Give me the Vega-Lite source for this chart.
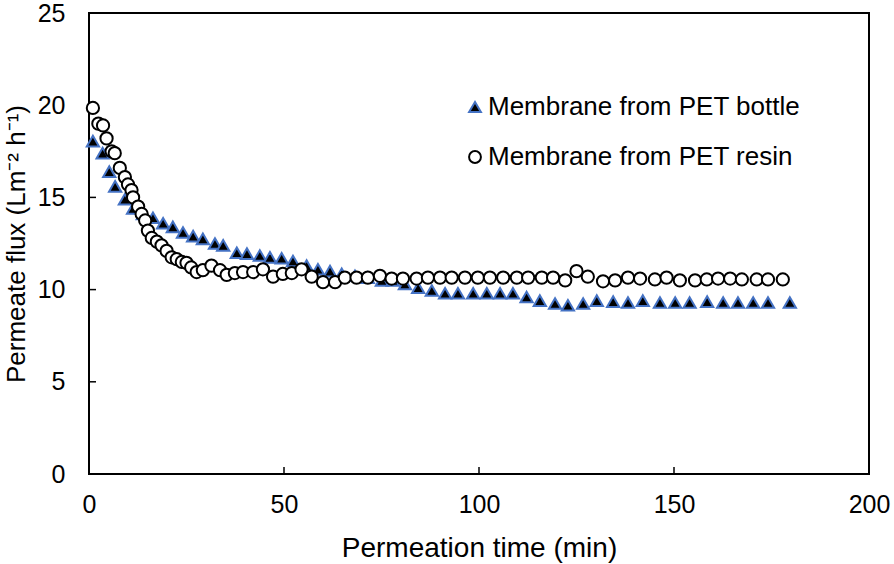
{
  "$schema": "https://vega.github.io/schema/vega-lite/v6.json",
  "autosize": {"type": "none"},
  "width": 780,
  "height": 461,
  "padding": {"left": 89, "top": 13, "right": 25, "bottom": 90},
  "background": "white",
  "config": {
    "font": "Liberation Sans",
    "view": {"stroke": "#000000", "strokeWidth": 2},
    "axis": {
      "domain": false,
      "grid": false,
      "ticks": false,
      "labelColor": "#000000",
      "titleColor": "#000000",
      "labelFont": "Liberation Sans",
      "titleFont": "Liberation Sans",
      "labelFontSize": 25,
      "titleFontSize": 28,
      "titleFontWeight": "normal"
    }
  },
  "datasets": {
    "xticks": [{"t": 50, "v": 0}, {"t": 100, "v": 0}, {"t": 150, "v": 0}],
    "yticks": [{"t": 0, "v": 5}, {"t": 0, "v": 10}, {"t": 0, "v": 15}, {"t": 0, "v": 20}],
    "flux": [
      {"series": "Membrane from PET bottle", "t": 1.0, "v": 18.05},
      {"series": "Membrane from PET bottle", "t": 3.5, "v": 17.4},
      {"series": "Membrane from PET bottle", "t": 5.2, "v": 16.4},
      {"series": "Membrane from PET bottle", "t": 6.7, "v": 15.6},
      {"series": "Membrane from PET bottle", "t": 9.2, "v": 14.9},
      {"series": "Membrane from PET bottle", "t": 11.3, "v": 14.4},
      {"series": "Membrane from PET bottle", "t": 13.8, "v": 14.1},
      {"series": "Membrane from PET bottle", "t": 16.4, "v": 13.9},
      {"series": "Membrane from PET bottle", "t": 19.0, "v": 13.6},
      {"series": "Membrane from PET bottle", "t": 21.5, "v": 13.4},
      {"series": "Membrane from PET bottle", "t": 24.1, "v": 13.1},
      {"series": "Membrane from PET bottle", "t": 26.7, "v": 12.9},
      {"series": "Membrane from PET bottle", "t": 29.2, "v": 12.75},
      {"series": "Membrane from PET bottle", "t": 32.3, "v": 12.5},
      {"series": "Membrane from PET bottle", "t": 34.4, "v": 12.4},
      {"series": "Membrane from PET bottle", "t": 37.9, "v": 12.0},
      {"series": "Membrane from PET bottle", "t": 40.5, "v": 11.95},
      {"series": "Membrane from PET bottle", "t": 43.8, "v": 11.85},
      {"series": "Membrane from PET bottle", "t": 46.4, "v": 11.75},
      {"series": "Membrane from PET bottle", "t": 49.4, "v": 11.7},
      {"series": "Membrane from PET bottle", "t": 52.3, "v": 11.55},
      {"series": "Membrane from PET bottle", "t": 55.8, "v": 11.3},
      {"series": "Membrane from PET bottle", "t": 58.7, "v": 11.1},
      {"series": "Membrane from PET bottle", "t": 61.8, "v": 11.0},
      {"series": "Membrane from PET bottle", "t": 64.8, "v": 10.85},
      {"series": "Membrane from PET bottle", "t": 68.2, "v": 10.75},
      {"series": "Membrane from PET bottle", "t": 71.5, "v": 10.65},
      {"series": "Membrane from PET bottle", "t": 75.1, "v": 10.5},
      {"series": "Membrane from PET bottle", "t": 77.9, "v": 10.5},
      {"series": "Membrane from PET bottle", "t": 81.0, "v": 10.3},
      {"series": "Membrane from PET bottle", "t": 84.4, "v": 10.1},
      {"series": "Membrane from PET bottle", "t": 87.9, "v": 9.95},
      {"series": "Membrane from PET bottle", "t": 91.3, "v": 9.8},
      {"series": "Membrane from PET bottle", "t": 94.6, "v": 9.8},
      {"series": "Membrane from PET bottle", "t": 98.5, "v": 9.8},
      {"series": "Membrane from PET bottle", "t": 102.0, "v": 9.8},
      {"series": "Membrane from PET bottle", "t": 105.4, "v": 9.8},
      {"series": "Membrane from PET bottle", "t": 108.7, "v": 9.8},
      {"series": "Membrane from PET bottle", "t": 112.2, "v": 9.6},
      {"series": "Membrane from PET bottle", "t": 115.6, "v": 9.4},
      {"series": "Membrane from PET bottle", "t": 119.5, "v": 9.25},
      {"series": "Membrane from PET bottle", "t": 122.8, "v": 9.15},
      {"series": "Membrane from PET bottle", "t": 126.7, "v": 9.25},
      {"series": "Membrane from PET bottle", "t": 130.2, "v": 9.4},
      {"series": "Membrane from PET bottle", "t": 134.4, "v": 9.35},
      {"series": "Membrane from PET bottle", "t": 138.2, "v": 9.3},
      {"series": "Membrane from PET bottle", "t": 142.0, "v": 9.4},
      {"series": "Membrane from PET bottle", "t": 146.4, "v": 9.3},
      {"series": "Membrane from PET bottle", "t": 150.3, "v": 9.3},
      {"series": "Membrane from PET bottle", "t": 154.0, "v": 9.3},
      {"series": "Membrane from PET bottle", "t": 158.5, "v": 9.35},
      {"series": "Membrane from PET bottle", "t": 162.6, "v": 9.3},
      {"series": "Membrane from PET bottle", "t": 166.4, "v": 9.3},
      {"series": "Membrane from PET bottle", "t": 170.3, "v": 9.3},
      {"series": "Membrane from PET bottle", "t": 174.1, "v": 9.3},
      {"series": "Membrane from PET bottle", "t": 179.7, "v": 9.3},
      {"series": "Membrane from PET resin", "t": 1.0, "v": 19.85},
      {"series": "Membrane from PET resin", "t": 2.4, "v": 19.0},
      {"series": "Membrane from PET resin", "t": 3.6, "v": 18.9},
      {"series": "Membrane from PET resin", "t": 4.5, "v": 18.2},
      {"series": "Membrane from PET resin", "t": 5.8, "v": 17.5},
      {"series": "Membrane from PET resin", "t": 6.6, "v": 17.4},
      {"series": "Membrane from PET resin", "t": 7.9, "v": 16.6},
      {"series": "Membrane from PET resin", "t": 9.2, "v": 16.1},
      {"series": "Membrane from PET resin", "t": 10.0, "v": 15.7},
      {"series": "Membrane from PET resin", "t": 10.9, "v": 15.4},
      {"series": "Membrane from PET resin", "t": 11.3, "v": 15.0},
      {"series": "Membrane from PET resin", "t": 12.6, "v": 14.5},
      {"series": "Membrane from PET resin", "t": 13.5, "v": 14.1},
      {"series": "Membrane from PET resin", "t": 14.4, "v": 13.75},
      {"series": "Membrane from PET resin", "t": 15.1, "v": 13.2},
      {"series": "Membrane from PET resin", "t": 16.1, "v": 12.8},
      {"series": "Membrane from PET resin", "t": 17.4, "v": 12.6},
      {"series": "Membrane from PET resin", "t": 18.6, "v": 12.4},
      {"series": "Membrane from PET resin", "t": 19.9, "v": 12.1},
      {"series": "Membrane from PET resin", "t": 21.2, "v": 11.75},
      {"series": "Membrane from PET resin", "t": 22.5, "v": 11.65},
      {"series": "Membrane from PET resin", "t": 23.8, "v": 11.5},
      {"series": "Membrane from PET resin", "t": 25.0, "v": 11.45},
      {"series": "Membrane from PET resin", "t": 26.2, "v": 11.2},
      {"series": "Membrane from PET resin", "t": 27.6, "v": 10.95},
      {"series": "Membrane from PET resin", "t": 29.2, "v": 11.05},
      {"series": "Membrane from PET resin", "t": 31.4, "v": 11.3},
      {"series": "Membrane from PET resin", "t": 33.6, "v": 11.05},
      {"series": "Membrane from PET resin", "t": 35.3, "v": 10.8},
      {"series": "Membrane from PET resin", "t": 37.4, "v": 10.9},
      {"series": "Membrane from PET resin", "t": 39.5, "v": 10.95},
      {"series": "Membrane from PET resin", "t": 42.1, "v": 10.95},
      {"series": "Membrane from PET resin", "t": 44.6, "v": 11.1},
      {"series": "Membrane from PET resin", "t": 47.2, "v": 10.7},
      {"series": "Membrane from PET resin", "t": 49.7, "v": 10.85},
      {"series": "Membrane from PET resin", "t": 52.0, "v": 10.9},
      {"series": "Membrane from PET resin", "t": 54.5, "v": 11.1},
      {"series": "Membrane from PET resin", "t": 57.1, "v": 10.7},
      {"series": "Membrane from PET resin", "t": 60.0, "v": 10.4},
      {"series": "Membrane from PET resin", "t": 63.1, "v": 10.4},
      {"series": "Membrane from PET resin", "t": 65.6, "v": 10.65},
      {"series": "Membrane from PET resin", "t": 68.6, "v": 10.65},
      {"series": "Membrane from PET resin", "t": 71.5, "v": 10.65},
      {"series": "Membrane from PET resin", "t": 74.6, "v": 10.75},
      {"series": "Membrane from PET resin", "t": 77.6, "v": 10.6},
      {"series": "Membrane from PET resin", "t": 80.5, "v": 10.6},
      {"series": "Membrane from PET resin", "t": 84.0, "v": 10.6},
      {"series": "Membrane from PET resin", "t": 86.9, "v": 10.65},
      {"series": "Membrane from PET resin", "t": 90.0, "v": 10.65},
      {"series": "Membrane from PET resin", "t": 93.0, "v": 10.65},
      {"series": "Membrane from PET resin", "t": 96.4, "v": 10.65},
      {"series": "Membrane from PET resin", "t": 99.7, "v": 10.65},
      {"series": "Membrane from PET resin", "t": 102.8, "v": 10.65},
      {"series": "Membrane from PET resin", "t": 106.2, "v": 10.65},
      {"series": "Membrane from PET resin", "t": 109.7, "v": 10.65},
      {"series": "Membrane from PET resin", "t": 112.6, "v": 10.65},
      {"series": "Membrane from PET resin", "t": 116.1, "v": 10.65},
      {"series": "Membrane from PET resin", "t": 119.0, "v": 10.65},
      {"series": "Membrane from PET resin", "t": 122.1, "v": 10.5},
      {"series": "Membrane from PET resin", "t": 125.0, "v": 11.0},
      {"series": "Membrane from PET resin", "t": 127.9, "v": 10.7},
      {"series": "Membrane from PET resin", "t": 131.8, "v": 10.45},
      {"series": "Membrane from PET resin", "t": 134.9, "v": 10.5},
      {"series": "Membrane from PET resin", "t": 138.2, "v": 10.65},
      {"series": "Membrane from PET resin", "t": 141.3, "v": 10.6},
      {"series": "Membrane from PET resin", "t": 145.1, "v": 10.55},
      {"series": "Membrane from PET resin", "t": 148.1, "v": 10.65},
      {"series": "Membrane from PET resin", "t": 151.5, "v": 10.5},
      {"series": "Membrane from PET resin", "t": 155.4, "v": 10.5},
      {"series": "Membrane from PET resin", "t": 158.4, "v": 10.55},
      {"series": "Membrane from PET resin", "t": 161.3, "v": 10.6},
      {"series": "Membrane from PET resin", "t": 164.4, "v": 10.6},
      {"series": "Membrane from PET resin", "t": 167.4, "v": 10.55},
      {"series": "Membrane from PET resin", "t": 171.2, "v": 10.55},
      {"series": "Membrane from PET resin", "t": 174.1, "v": 10.55},
      {"series": "Membrane from PET resin", "t": 177.9, "v": 10.55}
    ]
  },
  "encoding": {
    "x": {
      "field": "t", "type": "quantitative",
      "scale": {"domain": [0, 200], "nice": false},
      "axis": {"values": [0, 50, 100, 150, 200], "title": "Permeation time (min)", "labelPadding": 18, "titlePadding": 17, "labelFlush": false}
    },
    "y": {
      "field": "v", "type": "quantitative",
      "scale": {"domain": [0, 25], "nice": false},
      "axis": {"values": [0, 5, 10, 15, 20, 25], "title": "Permeate flux (Lm⁻² h⁻¹)", "titleFontSize": 26, "labelPadding": 24, "titlePadding": 8, "labelFlush": false}
    }
  },
  "layer": [
    {
      "data": {"name": "xticks"},
      "mark": {"type": "tick", "orient": "vertical", "size": 14, "thickness": 1.5, "color": "#000000", "clip": true, "opacity": 1}
    },
    {
      "data": {"name": "yticks"},
      "mark": {"type": "tick", "orient": "horizontal", "size": 14, "thickness": 1.5, "color": "#000000", "clip": true, "opacity": 1}
    },
    {
      "data": {"name": "flux"},
      "mark": {"type": "point", "filled": false, "size": 150, "strokeWidth": 2, "opacity": 1},
      "encoding": {
        "shape": {
          "field": "series", "type": "nominal",
          "scale": {"domain": ["Membrane from PET bottle", "Membrane from PET resin"], "range": ["triangle-up", "circle"]},
          "legend": {
            "title": null, "orient": "none", "legendX": 373, "legendY": 81,
            "labelFontSize": 26, "labelFont": "Liberation Sans", "labelColor": "#000000", "labelLimit": 0,
            "symbolSize": 140, "symbolStrokeWidth": 2, "rowPadding": 24, "labelOffset": 0, "padding": 0
          }
        },
        "fill": {
          "field": "series", "type": "nominal",
          "scale": {"domain": ["Membrane from PET bottle", "Membrane from PET resin"], "range": ["#000000", "#ffffff"]},
          "legend": null
        },
        "stroke": {
          "field": "series", "type": "nominal",
          "scale": {"domain": ["Membrane from PET bottle", "Membrane from PET resin"], "range": ["#4472C4", "#000000"]},
          "legend": null
        }
      }
    }
  ]
}
